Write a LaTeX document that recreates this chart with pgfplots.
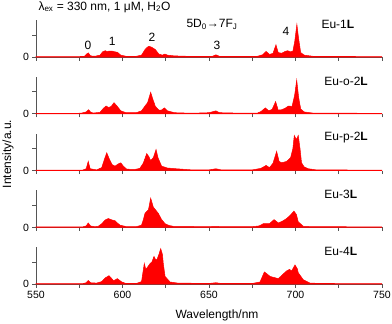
\documentclass[border=0pt]{standalone}
\usepackage{pgfplots}
\pgfplotsset{compat=1.18}
\usepackage{fontspec}
\setmainfont{Liberation Sans}
\definecolor{specRed}{HTML}{FF0000}
\definecolor{axGray}{HTML}{555555}

\tikzset{lab/.style={font=\fontsize{12}{14}\selectfont}}
\pgfplotsset{
  panel/.style={
    scale only axis, width=346pt, height=37pt,
    xmin=550, xmax=750, ymin=0, ymax=1,
    axis x line*=bottom, axis y line*=left,
    axis line style={-, draw=axGray, line width=0.6pt},
    tick style={draw=axGray, line width=0.6pt},
    xtick={550,600,650,700,750}, minor xtick={575,625,675,725},
    xticklabels={},
    ytick={0,0.6}, yticklabels={0,{}},
    tick align=outside, major tick length=3.5pt, minor tick length=3.5pt,
    every tick label/.append style={font=\fontsize{10.5}{12}\selectfont},
    clip=false,
  },
  spec/.style={draw=specRed, fill=specRed, line width=0.5pt},
}

\begin{document}
\begin{tikzpicture}
\useasboundingbox (-36pt,57pt) rectangle (356pt,-267pt);

% panel 1
\begin{axis}[panel, at={(0pt,0pt)}]
\addplot[spec] coordinates {
(550,0.012)(575,0.012)(578,0.02)(579.5,0.09)(580.3,0.11)(581.5,0.03)(584,0.02)(587,0.05)
(588.5,0.14)(590,0.17)(591,0.15)(592.5,0.16)(594,0.16)(595.5,0.14)(597,0.13)(599,0.05)
(602,0.02)(608,0.02)(611,0.05)(613,0.2)(614.5,0.27)(615.5,0.29)(617,0.26)(619,0.2)
(621,0.08)(623,0.05)(624.5,0.08)(626,0.05)(630,0.03)(640,0.015)(652,0.02)(654,0.06)
(656,0.02)(670,0.015)(678,0.02)(681,0.06)(683,0.15)(685,0.07)(687,0.1)(688.7,0.33)
(690,0.12)(692,0.1)(694,0.15)(695.5,0.17)(697,0.14)(698.5,0.16)(699.5,0.4)(700.8,0.88)
(701.8,0.5)(703,0.12)(705,0.05)(710,0.02)(720,0.015)(750,0.012)
} \closedcycle;
\node[lab] at (axis cs:580,0.32) {0};
\node[lab] at (axis cs:594,0.41) {1};
\node[lab] at (axis cs:617,0.54) {2};
\node[lab] at (axis cs:654.6,0.32) {3};
\node[lab] at (axis cs:694.5,0.68) {4};
\node[lab] at (axis cs:651.7,0.89) {5D\textsubscript{0}→7F\textsubscript{J}};
\node[lab, anchor=west] at (axis cs:713,0.88) {Eu-1\textbf{L}};
\end{axis}

% panel 2
\begin{axis}[panel, at={(0pt,-56.8pt)}]
\addplot[spec] coordinates {
(550,0.012)(576,0.015)(579,0.05)(580.4,0.11)(581.5,0.05)(583,0.02)(587,0.04)(589,0.15)
(590.5,0.21)(592,0.17)(593.5,0.2)(595.1,0.3)(597,0.2)(599,0.08)(602,0.03)(608,0.03)
(611,0.08)(613,0.21)(614.5,0.3)(616.3,0.58)(617.5,0.4)(619,0.2)(621,0.1)(622.5,0.1)
(624.2,0.16)(626,0.08)(630,0.03)(640,0.015)(650,0.03)(654,0.08)(656,0.03)(670,0.015)
(678,0.02)(680,0.06)(682.6,0.16)(684.5,0.08)(686.5,0.12)(688.5,0.33)(690,0.1)(692,0.11)
(694,0.15)(695.9,0.21)(698,0.2)(699.5,0.5)(700.7,0.91)(701.8,0.45)(703,0.13)(705,0.05)
(710,0.02)(750,0.012)
} \closedcycle;
\node[lab, anchor=west] at (axis cs:714.7,0.88) {Eu-o-2\textbf{L}};
\end{axis}

% panel 3
\begin{axis}[panel, at={(0pt,-113.6pt)}]
\addplot[spec] coordinates {
(550,0.012)(577,0.015)(579,0.05)(580.2,0.25)(581.3,0.05)(585,0.02)(588,0.08)(589.5,0.3)
(590.9,0.48)(592.5,0.3)(594,0.16)(595.7,0.12)(597.5,0.18)(599,0.21)(600.5,0.12)(602.4,0.04)
(607,0.03)(610,0.06)(612,0.2)(614,0.46)(615.2,0.38)(616.3,0.27)(617.8,0.35)(619.4,0.57)
(620.5,0.35)(622.6,0.12)(626,0.07)(631,0.05)(640,0.02)(650,0.02)(654,0.05)(657,0.02)
(675,0.02)(680,0.06)(683,0.14)(685,0.08)(687,0.2)(689.1,0.52)(690.5,0.25)(692,0.21)
(694.9,0.25)(697.2,0.35)(698.5,0.6)(699.3,0.95)(700.5,0.84)(701.6,0.95)(702.6,0.6)(703.5,0.21)
(705,0.1)(707.4,0.05)(712,0.02)(750,0.012)
} \closedcycle;
\node[lab, anchor=west] at (axis cs:714.7,0.88) {Eu-p-2\textbf{L}};
\end{axis}

% panel 4
\begin{axis}[panel, at={(0pt,-170.4pt)}]
\addplot[spec] coordinates {
(550,0.015)(577,0.015)(579,0.04)(580.2,0.12)(581.5,0.04)(584,0.02)(586,0.03)(588,0.1)
(590,0.2)(591.8,0.24)(594,0.2)(595.7,0.18)(597,0.12)(598.6,0.06)(602.4,0.02)(608,0.02)
(611,0.06)(612,0.2)(613,0.38)(615,0.48)(616.3,0.79)(617.8,0.55)(619.5,0.45)(620.7,0.38)
(622.5,0.22)(624.6,0.1)(627,0.05)(629.4,0.03)(650,0.02)(654,0.03)(657,0.02)(675,0.02)
(679,0.04)(681.4,0.1)(684.9,0.1)(687.6,0.21)(690.1,0.12)(692.5,0.17)(694.9,0.24)(697,0.33)
(699.1,0.44)(700.5,0.35)(701.6,0.15)(704.5,0.03)(710,0.02)(750,0.015)
} \closedcycle;
\node[lab, anchor=west] at (axis cs:714.7,0.88) {Eu-3\textbf{L}};
\end{axis}

% panel 5
\begin{axis}[panel, at={(0pt,-227.2pt)},
  xticklabels={550,600,650,700,750}]
\addplot[spec] coordinates {
(550,0.015)(577,0.015)(579,0.04)(580.2,0.1)(581.5,0.04)(585,0.03)(588,0.07)(590,0.17)
(592.2,0.23)(594,0.14)(594.8,0.09)(597,0.15)(599.6,0.06)(602,0.02)(608,0.02)(611,0.07)
(612.6,0.56)(613.3,0.43)(614,0.43)(616,0.56)(617,0.6)(618.2,0.75)(619,0.68)(619.8,0.65)
(621,0.8)(622.1,0.96)(623.1,0.8)(623.6,0.55)(624.6,0.21)(627.5,0.06)(632,0.03)(650,0.02)
(654,0.04)(657,0.02)(675,0.02)(679.5,0.06)(682,0.33)(683.5,0.28)(685.3,0.21)(690.1,0.15)
(693,0.28)(694.9,0.36)(696.5,0.4)(697.8,0.36)(699.7,0.52)(701,0.42)(701.6,0.31)(704.5,0.12)
(708.4,0.03)(715,0.02)(750,0.015)
} \closedcycle;
\node[lab, anchor=west] at (axis cs:714.7,0.88) {Eu-4\textbf{L}};
\end{axis}

% title and axis titles
\node[lab, anchor=west] at (-1pt,50pt) {λ\textsubscript{ex} = 330 nm, 1 μM, H\textsubscript{2}O};
\node[lab, rotate=90] at (-28pt,-97pt) {Intensity/a.u.};
\node[lab] at (181pt,-258pt) {Wavelength/nm};
\end{tikzpicture}
\end{document}
